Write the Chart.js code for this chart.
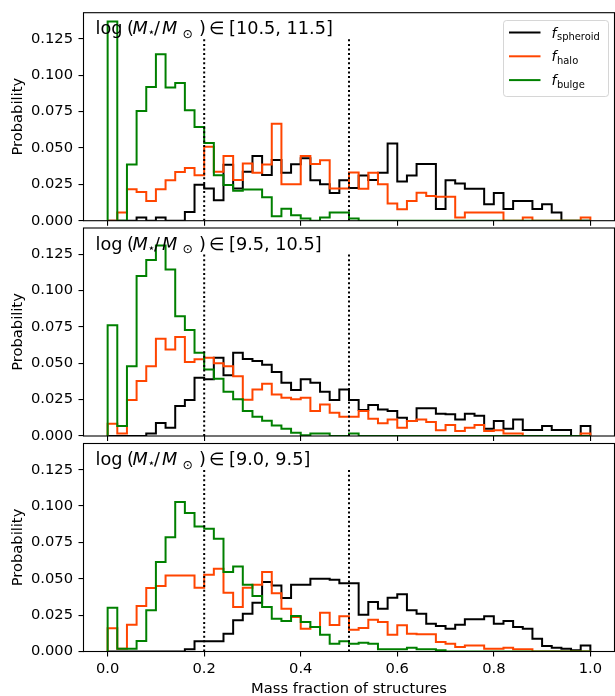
<!DOCTYPE html>
<html>
<head>
<meta charset="utf-8">
<title>Mass fraction of structures</title>
<script src="https://cdn.jsdelivr.net/npm/chart.js@4/dist/chart.umd.min.js"></script>
<style>
  html, body { margin: 0; padding: 0; background: #fff; }
  #wrap { position: relative; width: 615px; height: 696px; overflow: hidden; background: #fff; }
  #wrap canvas { position: absolute; left: 0; top: 0; }
</style>
</head>
<body>
<div id="wrap">
  <canvas id="panelHigh" width="615" height="696"></canvas>
  <canvas id="panelMid" width="615" height="696"></canvas>
  <canvas id="panelLow" width="615" height="696"></canvas>
</div>
<script>
// ---- histogram bins: 50 bins of width 0.02 on [0, 1] ----
const binWidth = 0.02;
const binCount = 50;
const binEdges = Array.from({ length: binCount + 1 }, (_, i) => +(i * binWidth).toFixed(2));

const xTickValues = [0.0, 0.2, 0.4, 0.6, 0.8, 1.0];
const yTickValues = [0.000, 0.025, 0.050, 0.075, 0.100, 0.125];
const markerFractions = [0.2, 0.5];
const markerTop = 0.125;
const yMax = 0.143;

const massRanges = ['[10.5, 11.5]', '[9.5, 10.5]', '[9.0, 9.5]'];

// log(M*/Msun) in [10.5, 11.5]
const spheroidHigh = [0, 0, 0, 0.0022, 0, 0.0022, 0, 0, 0.006, 0.0248,
  0.0222, 0.014, 0.0385, 0.0222, 0.0336, 0.0445, 0.0315, 0.0418, 0.0329, 0.0388,
  0.043, 0.0278, 0.025, 0.019, 0.0278, 0.0225, 0.031, 0.028, 0.0329, 0.053,
  0.027, 0.031, 0.039, 0.039, 0.008, 0.0278, 0.0255, 0.022, 0.022, 0.0113,
  0.019, 0.008, 0.0136, 0.0136, 0.008, 0.0113, 0.0056, 0, 0, 0];
const haloHigh = [0, 0.0056, 0.0216, 0.0198, 0.0136, 0.0216, 0.0278, 0.0335, 0.0363, 0.0313,
  0.0508, 0.0336, 0.0444, 0.028, 0.0394, 0.033, 0.0387, 0.0667, 0.0251, 0.0251,
  0.0445, 0.039, 0.0416, 0.0221, 0.0221, 0.0331, 0.022, 0.033, 0.025, 0.0118,
  0.0079, 0.0136, 0.0193, 0.017, 0.0164, 0.0164, 0.0022, 0.0056, 0.0056, 0.0056,
  0.0056, 0, 0, 0.0022, 0, 0, 0, 0, 0, 0.0022];
const bulgeHigh = [0.137, 0, 0.0386, 0.0754, 0.0919, 0.1144, 0.0915, 0.0947, 0.0759, 0.0645,
  0.0535, 0.0313, 0.0245, 0.0206, 0.0215, 0.0215, 0.0162, 0.003, 0.0082, 0.0038,
  0.0015, 0, 0.0022, 0.0056, 0.0056, 0.0015, 0, 0, 0, 0,
  0, 0, 0, 0, 0, 0, 0, 0, 0, 0,
  0, 0, 0, 0, 0, 0, 0, 0, 0, 0];

// log(M*/Msun) in [9.5, 10.5]
const spheroidMid = [0, 0, 0, 0, 0.0018, 0.009, 0.0057, 0.0206, 0.0247, 0.040,
  0.039, 0.0538, 0.0417, 0.0572, 0.053, 0.0515, 0.049, 0.044, 0.0366, 0.0316,
  0.039, 0.0366, 0.0304, 0.0247, 0.032, 0.0247, 0.0179, 0.0213, 0.0183, 0.0172,
  0.0126, 0.0103, 0.019, 0.019, 0.0153, 0.0149, 0.0114, 0.0153, 0.014, 0.005,
  0.0103, 0.005, 0.0114, 0.0041, 0.0041, 0.0069, 0.0041, 0.0041, 0, 0.0069];
const haloMid = [0.0085, 0.0018, 0.0247, 0.0378, 0.048, 0.0668, 0.0595, 0.068, 0.0508, 0.0527,
  0.0538, 0.050, 0.048, 0.041, 0.025, 0.032, 0.036, 0.0286, 0.0263, 0.0252,
  0.0263, 0.0172, 0.0217, 0.016, 0.0133, 0.0133, 0.0172, 0.0119, 0.0087, 0.0114,
  0.0057, 0.0103, 0.0114, 0.0096, 0.004, 0.0076, 0.0034, 0.0057, 0.0076, 0.0034,
  0.004, 0.0018, 0.0018, 0, 0, 0, 0, 0, 0, 0.0018];
const bulgeMid = [0.0762, 0.0069, 0.048, 0.110, 0.121, 0.131, 0.1145, 0.0824, 0.0728, 0.0572,
  0.0458, 0.0394, 0.0304, 0.0252, 0.0172, 0.0133, 0.0105, 0.0072, 0.005, 0.0023,
  0.0005, 0.0018, 0.0018, 0, 0, 0.0018, 0, 0, 0, 0,
  0, 0, 0, 0, 0, 0, 0, 0, 0, 0,
  0, 0, 0, 0, 0, 0, 0, 0, 0, 0];

// log(M*/Msun) in [9.0, 9.5]
const spheroidLow = [0, 0, 0, 0, 0, 0, 0, 0, 0.0015, 0.007,
  0.007, 0.007, 0.0122, 0.0214, 0.026, 0.0335, 0.0477, 0.0454, 0.0367, 0.0459,
  0.0459, 0.050, 0.050, 0.0493, 0.047, 0.047, 0.0253, 0.034, 0.0294, 0.037,
  0.0393, 0.0283, 0.026, 0.0191, 0.0175, 0.0157, 0.0184, 0.0221, 0.0221, 0.0242,
  0.0191, 0.0209, 0.0168, 0.0157, 0.0088, 0.0038, 0.0026, 0.0019, 0.0008, 0.0042];
const haloLow = [0.016, 0.0019, 0.0184, 0.0312, 0.0436, 0.045, 0.0523, 0.0523, 0.0523, 0.0438,
  0.0527, 0.0569, 0.0404, 0.0306, 0.0438, 0.0459, 0.0546, 0.040, 0.0294, 0.0237,
  0.0157, 0.0168, 0.0267, 0.0183, 0.0243, 0.015, 0.0161, 0.0218, 0.0203, 0.0116,
  0.018, 0.0122, 0.0118, 0.0118, 0.0065, 0.0054, 0.0031, 0.0042, 0.0042, 0.0019,
  0.0019, 0.0026, 0.0015, 0.0015, 0, 0, 0, 0, 0, 0];
const bulgeLow = [0.0301, 0.0019, 0.0019, 0.0072, 0.0283, 0.0615, 0.0786, 0.1027, 0.0953, 0.086,
  0.0844, 0.0775, 0.0546, 0.0585, 0.0459, 0.0381, 0.0306, 0.0225, 0.0209, 0.0244,
  0.0203, 0.0168, 0.0116, 0.0054, 0.007, 0.0054, 0.0061, 0.0054, 0.0015, 0.0015,
  0.0015, 0.0026, 0.0015, 0.0015, 0.0008, 0, 0, 0, 0, 0,
  0, 0, 0, 0, 0, 0, 0, 0, 0, 0];

const seriesNames = ['spheroid', 'halo', 'bulge'];
const seriesColors = ['#000000', '#ff4500', '#008000'];

// ---- layout constants (pixels) ----
const FONT = '"DejaVu Sans", "Liberation Sans", sans-serif';
const LABEL_SIZE = 14.7;
const TITLE_SIZE = 17.7;
const CANVAS_H = 696;
const X_AXIS_H = 44.5;
const Y_AXIS_W = 83.5;
const panels = [
  { id: 'panelHigh', top: 12.7, bottom: 220.7, showX: false, legend: true,
    series: [spheroidHigh, haloHigh, bulgeHigh], range: massRanges[0] },
  { id: 'panelMid', top: 228, bottom: 436, showX: false, legend: false,
    series: [spheroidMid, haloMid, bulgeMid], range: massRanges[1] },
  { id: 'panelLow', top: 443.5, bottom: 651.5, showX: true, legend: false,
    series: [spheroidLow, haloLow, bulgeLow], range: massRanges[2] }
];

// Step outline of a histogram: start at zero on the first edge,
// one point per bin on its left edge, back to zero on the last edge.
function stepPoints(values) {
  const pts = [{ x: binEdges[0], y: 0 }];
  values.forEach((v, i) => pts.push({ x: binEdges[i], y: v }));
  pts.push({ x: binEdges[values.length], y: 0 });
  return pts;
}

// Pieces of a math label, each placed at its own offset from x0.
function drawPieces(ctx, x0, y0, parts, size) {
  ctx.textAlign = 'left';
  ctx.textBaseline = 'alphabetic';
  for (const p of parts) {
    const s = p.sub ? size * 0.7 : size;
    ctx.font = (p.it ? 'italic ' : '') + s + 'px ' + FONT;
    ctx.fillText(p.t, x0 + p.dx, y0 + (p.dy || 0));
  }
}

function roundRectPath(ctx, x, y, w, h, r) {
  ctx.beginPath();
  ctx.moveTo(x + r, y);
  ctx.lineTo(x + w - r, y);
  ctx.arcTo(x + w, y, x + w, y + r, r);
  ctx.lineTo(x + w, y + h - r);
  ctx.arcTo(x + w, y + h, x + w - r, y + h, r);
  ctx.lineTo(x + r, y + h);
  ctx.arcTo(x, y + h, x, y + h - r, r);
  ctx.lineTo(x, y + r);
  ctx.arcTo(x, y, x + r, y, r);
  ctx.closePath();
}

// Axes frame, mass-range label and the legend box.
const panelDecor = {
  id: 'panelDecor',
  afterDraw(chart, args, opts) {
    const { ctx, chartArea: a } = chart;
    ctx.save();
    ctx.strokeStyle = '#000';
    ctx.lineWidth = 1.1;
    ctx.strokeRect(a.left, a.top, a.right - a.left, a.bottom - a.top);

    ctx.fillStyle = '#000';
    drawPieces(ctx, a.left, a.top + 21.5, [
      { t: 'log', dx: 12 },
      { t: '(', dx: 43.5 },
      { t: 'M', it: true, dx: 49 },
      { t: '\u22C6', sub: true, dx: 64, dy: 2 },
      { t: '/', dx: 70.5 },
      { t: 'M', it: true, dx: 78.5 },
      { t: '\u2299', sub: true, dx: 99, dy: 3.5 },
      { t: ')', dx: 115.5 },
      { t: '\u2208', dx: 125.5 },
      { t: opts.range, dx: 145.5 }
    ], TITLE_SIZE);

    if (opts.legend) {
      const bx = 503.5, by = 20.5, bw = 105, bh = 76;
      roundRectPath(ctx, bx, by, bw, bh, 3);
      ctx.fillStyle = 'rgba(255,255,255,0.8)';
      ctx.fill();
      ctx.strokeStyle = 'rgba(204,204,204,0.8)';
      ctx.lineWidth = 1;
      ctx.stroke();
      const entries = chart.data.datasets.filter(d => d.legendName);
      entries.forEach((d, i) => {
        const ly = 32.5 + i * 23.8;
        ctx.strokeStyle = d.borderColor;
        ctx.lineWidth = 2;
        ctx.setLineDash([]);
        ctx.beginPath();
        ctx.moveTo(509, ly);
        ctx.lineTo(540.5, ly);
        ctx.stroke();
        ctx.fillStyle = '#000';
        drawPieces(ctx, 551.5, ly + 5, [
          { t: 'f', it: true, dx: 0 },
          { t: d.legendName, sub: true, dx: 5.5, dy: 2.5 }
        ], 14.2);
      });
    }
    ctx.restore();
  }
};

function makeChart(p) {
  const datasets = p.series.map((vals, i) => ({
    legendName: seriesNames[i],
    data: stepPoints(vals),
    borderColor: seriesColors[i],
    borderWidth: 2,
    stepped: true,
    pointRadius: 0,
    fill: false,
    order: 3 - i
  }));
  markerFractions.forEach(f => datasets.push({
    data: [{ x: f, y: 0 }, { x: f, y: markerTop }],
    borderColor: '#000',
    borderWidth: 2,
    borderDash: [2, 2.6],
    stepped: false,
    pointRadius: 0,
    fill: false,
    order: 0
  }));

  const tickFont = { family: FONT, size: LABEL_SIZE };
  return new Chart(document.getElementById(p.id), {
    type: 'line',
    data: { datasets },
    plugins: [panelDecor],
    options: {
      responsive: false,
      animation: false,
      devicePixelRatio: 1,
      events: [],
      layout: {
        autoPadding: false,
        padding: { left: 0, right: 0.5, top: p.top, bottom: CANVAS_H - X_AXIS_H - p.bottom }
      },
      plugins: {
        legend: { display: false },
        tooltip: { enabled: false },
        panelDecor: { range: p.range, legend: p.legend }
      },
      scales: {
        x: {
          type: 'linear',
          min: -0.05,
          max: 1.05,
          afterBuildTicks: ax => { ax.ticks = xTickValues.map(v => ({ value: v })); },
          afterFit: ax => {
            ax.height = X_AXIS_H;
            ax.paddingLeft = ax.paddingRight = ax.paddingTop = ax.paddingBottom = 0;
          },
          border: { display: false },
          grid: { drawOnChartArea: false, drawTicks: true, tickLength: 5, color: '#000', lineWidth: 1.1 },
          ticks: {
            display: p.showX, padding: 3.5, color: '#000', font: tickFont,
            maxRotation: 0, autoSkip: false,
            callback: v => v.toFixed(1)
          },
          title: {
            display: p.showX, text: 'Mass fraction of structures', color: '#000',
            font: tickFont, padding: { top: 0, bottom: -1.5 }
          }
        },
        y: {
          min: 0,
          max: yMax,
          afterBuildTicks: ax => { ax.ticks = yTickValues.map(v => ({ value: v })); },
          afterFit: ax => {
            ax.width = Y_AXIS_W;
            ax.paddingLeft = ax.paddingRight = ax.paddingTop = ax.paddingBottom = 0;
          },
          border: { display: false },
          grid: { drawOnChartArea: false, drawTicks: true, tickLength: 5, color: '#000', lineWidth: 1.1 },
          ticks: {
            padding: 5.5, color: '#000', font: tickFont, autoSkip: false,
            callback: v => v.toFixed(3)
          },
          title: {
            display: true, text: 'Probability', color: '#000',
            font: tickFont, padding: { top: 9.5, bottom: 0 }
          }
        }
      }
    }
  });
}

panels.forEach(makeChart);
</script>
</body>
</html>
